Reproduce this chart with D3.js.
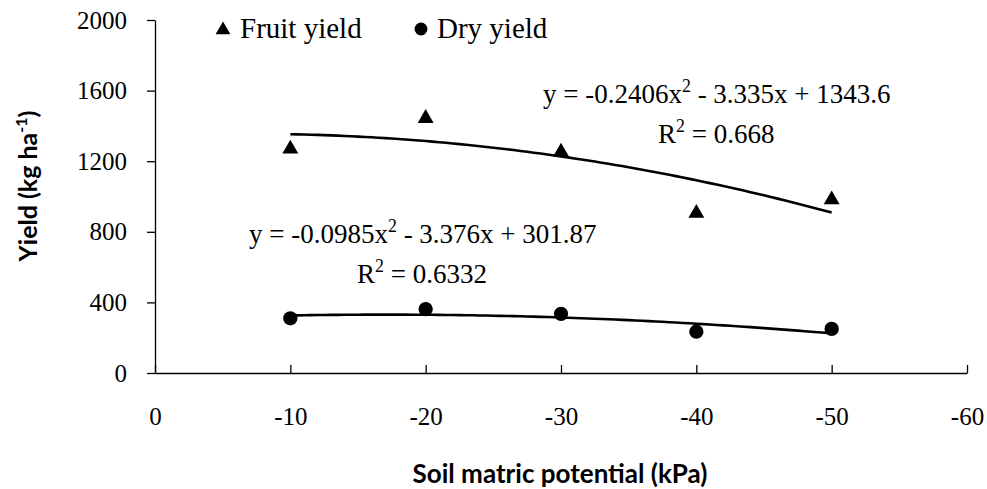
<!DOCTYPE html>
<html><head><meta charset="utf-8">
<script src="https://cdn.jsdelivr.net/npm/d3@7"></script>
<style>body{margin:0;background:#fff} svg{display:block}</style>
</head><body><svg id="c" width="987" height="489"></svg>
<script>
// ---- data ----
const potentials = [-10, -20, -30, -40, -50];
const fruitYield = [1269, 1443, 1252, 906, 982];
const dryYield = [310, 362, 335, 234, 250];
const xTicks = [0, -10, -20, -30, -40, -50, -60];
const yTicks = [0, 400, 800, 1200, 1600, 2000];
const fruitCoef = [-0.2406, -3.335, 1343.6];   // a, b, c of trend y = a x^2 + b x + c
const dryCoef = [-0.0985, -3.376, 301.87];
const fruitEq = ["y = -0.2406x", "2", " - 3.335x + 1343.6"];
const fruitR2 = ["R", "2", " = 0.668"];
const dryEq = ["y = -0.0985x", "2", " - 3.376x + 301.87"];
const dryR2 = ["R", "2", " = 0.6332"];
const legendLabels = ["Fruit yield", "Dry yield"];
const xTitle = "Soil matric potential (kPa)";
const yTitle = ["Yield (kg ha", "-1", ")"];

const serif = "'Liberation Serif','Times New Roman',serif";
const sans = "Lato,'Open Sans',sans-serif";

const svg = d3.select("#c");
const x = d3.scaleLinear().domain([0, -60]).range([155, 967]);
const y = d3.scaleLinear().domain([0, 2000]).range([373, 20]);
const fmt = d => String(d);

// axes
const yAxis = svg.append("g").attr("transform", `translate(${x(0)},0)`)
  .call(d3.axisLeft(y).tickValues(yTicks).tickSizeInner(8).tickSizeOuter(0).tickPadding(20).tickFormat(fmt));
yAxis.attr("font-family", null).attr("font-size", null);
yAxis.selectAll("text").style("font-family", serif).style("font-size", "25px").attr("fill", "#000");
yAxis.selectAll("line,path").attr("stroke", "#000").attr("stroke-width", 1.3);

const xAxis = svg.append("g").attr("transform", `translate(0,${y(0)})`)
  .call(d3.axisBottom(x).tickValues(xTicks).tickSizeInner(-8).tickSizeOuter(0).tickPadding(34).tickFormat(fmt));
xAxis.attr("font-family", null).attr("font-size", null);
xAxis.selectAll("text").style("font-family", serif).style("font-size", "25px").attr("fill", "#000");
xAxis.selectAll("line,path").attr("stroke", "#000").attr("stroke-width", 1.3);

// trend lines (from the displayed regression coefficients)
function trend(coef) {
  return d3.range(potentials[0], potentials[potentials.length - 1] - 0.01, -0.5)
    .map(v => [v, coef[0] * v * v + coef[1] * v + coef[2]]);
}
const line = d3.line().x(d => x(d[0])).y(d => y(d[1]));
[fruitCoef, dryCoef].forEach(c => {
  svg.append("path").attr("d", line(trend(c))).attr("fill", "none")
    .attr("stroke", "#000").attr("stroke-width", 2.6);
});

// markers
const tri = d3.symbol().type(d3.symbolTriangle).size(110);
const circ = d3.symbol().type(d3.symbolCircle).size(160);
svg.append("g").selectAll("path").data(potentials).join("path")
  .attr("d", tri).attr("transform", (d, i) => `translate(${x(d)},${y(fruitYield[i])})`).attr("fill", "#000");
svg.append("g").selectAll("path").data(potentials).join("path")
  .attr("d", circ).attr("transform", (d, i) => `translate(${x(d)},${y(dryYield[i])})`).attr("fill", "#000");

// legend
svg.append("path").attr("d", d3.symbol().type(d3.symbolTriangle).size(95)()).attr("transform", "translate(223,30)").attr("fill", "#000");
svg.append("text").attr("x", 240).attr("y", 38).style("font-family", serif).style("font-size", "29px").text(legendLabels[0]);
svg.append("path").attr("d", d3.symbol().type(d3.symbolCircle).size(130)()).attr("transform", "translate(421,29)").attr("fill", "#000");
svg.append("text").attr("x", 437).attr("y", 38).style("font-family", serif).style("font-size", "29px").text(legendLabels[1]);

// equations
function supText(parts, px, py, fs) {
  const t = svg.append("text").attr("x", px).attr("y", py).style("font-family", serif).style("font-size", fs + "px").attr("fill", "#000");
  t.append("tspan").text(parts[0]);
  t.append("tspan").attr("dy", -11).style("font-size", (fs * 0.66) + "px").text(parts[1]);
  t.append("tspan").attr("dy", 11).text(parts[2]);
  return t;
}
supText(fruitEq, 543, 103, 27);
supText(fruitR2, 658, 143, 27);
supText(dryEq, 249, 243, 27);
supText(dryR2, 357, 283, 27);

// axis titles
svg.append("text").attr("x", 560).attr("y", 483).attr("text-anchor", "middle")
  .style("font-family", sans).style("font-weight", "bold").style("font-size", "26px").text(xTitle);
const yt = svg.append("text").attr("transform", "translate(37,186) rotate(-90)").attr("text-anchor", "middle")
  .style("font-family", sans).style("font-weight", "bold").style("font-size", "25px");
yt.append("tspan").text(yTitle[0]);
yt.append("tspan").attr("dy", -10).style("font-size", "16px").text(yTitle[1]);
yt.append("tspan").attr("dy", 10).text(yTitle[2]);
</script></body></html>
